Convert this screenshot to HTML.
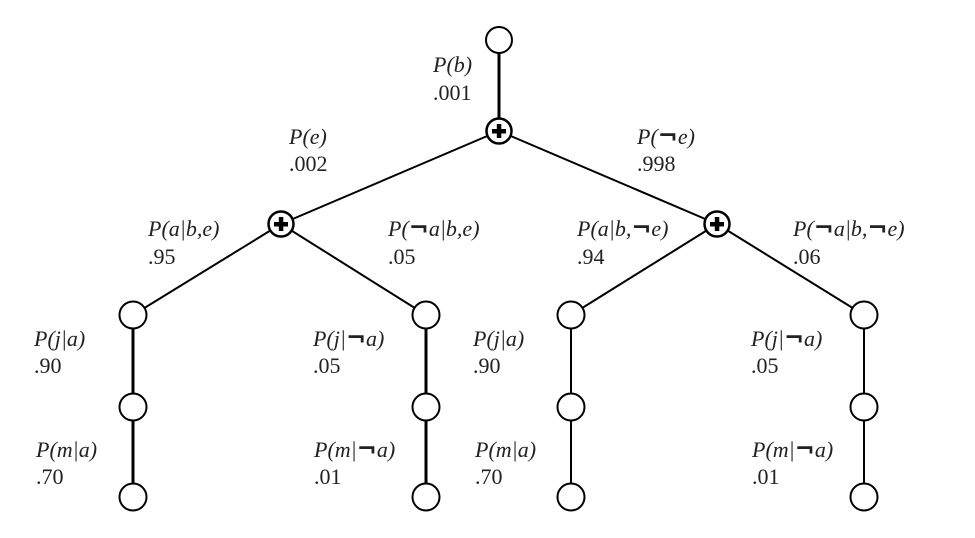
<!DOCTYPE html>
<html><head><meta charset="utf-8"><style>
html,body{margin:0;padding:0;background:#fff;}
svg{display:block;}
text{font-family:"Liberation Serif",serif;font-size:22px;fill:#222;}
.i{font-style:italic;}
.n{font-family:"DejaVu Sans",sans-serif;font-weight:bold;font-style:normal;font-size:24px;}
</style></head><body>
<svg width="975" height="538" viewBox="0 0 975 538" xmlns="http://www.w3.org/2000/svg">
<g stroke="#000" fill="none">
<line x1="499" y1="53" x2="499" y2="119" stroke-width="3"/>
<line x1="499" y1="131" x2="281" y2="224" stroke-width="2"/>
<line x1="499" y1="131" x2="717" y2="224" stroke-width="2"/>
<line x1="281" y1="224" x2="133" y2="315" stroke-width="2"/>
<line x1="281" y1="224" x2="426" y2="315" stroke-width="2"/>
<line x1="717" y1="224" x2="571" y2="315" stroke-width="2"/>
<line x1="717" y1="224" x2="864" y2="315" stroke-width="2"/>
<line x1="133" y1="315" x2="133" y2="498" stroke-width="3"/>
<line x1="426" y1="315" x2="426" y2="498" stroke-width="3"/>
<line x1="571" y1="315" x2="571" y2="498" stroke-width="2"/>
<line x1="864" y1="315" x2="864" y2="498" stroke-width="2"/>
</g>
<g stroke="#000" stroke-width="2" fill="#fff">
<circle cx="499" cy="40" r="13"/>
<circle cx="133" cy="315" r="13.5"/><circle cx="426" cy="315" r="13.5"/><circle cx="571" cy="315" r="13.5"/><circle cx="864" cy="315" r="13.5"/>
<circle cx="133" cy="407" r="13.5"/><circle cx="426" cy="407" r="13.5"/><circle cx="571" cy="407" r="13.5"/><circle cx="864" cy="407" r="13.5"/>
<circle cx="133" cy="497" r="13.5"/><circle cx="426" cy="497" r="13.5"/><circle cx="571" cy="497" r="13.5"/><circle cx="864" cy="497" r="13.5"/>
<circle cx="499" cy="131" r="12.5" stroke-width="2.5"/>
<circle cx="281" cy="224" r="12.5" stroke-width="2.5"/>
<circle cx="717" cy="224" r="12.5" stroke-width="2.5"/>
</g>
<g fill="#000">
<rect x="492" y="129" width="14" height="4.5"/><rect x="496.8" y="124" width="4.5" height="14"/>
<rect x="274" y="222" width="14" height="4.5"/><rect x="278.8" y="217" width="4.5" height="14"/>
<rect x="710" y="222" width="14" height="4.5"/><rect x="714.8" y="217" width="4.5" height="14"/>
</g>
<text class="i" x="433" y="72">P(b)</text><text x="433" y="100">.001</text>
<text class="i" x="289" y="144">P(e)</text><text x="289" y="171">.002</text>
<text class="i" x="637" y="144">P(<tspan class="n">¬</tspan>e)</text><text x="637" y="171">.998</text>
<text class="i" x="148" y="236">P(a|b,e)</text><text x="148" y="264">.95</text>
<text class="i" x="388" y="236">P(<tspan class="n">¬</tspan>a|b,e)</text><text x="388" y="264">.05</text>
<text class="i" x="577" y="236">P(a|b,<tspan class="n">¬</tspan>e)</text><text x="577" y="264">.94</text>
<text class="i" x="793" y="236">P(<tspan class="n">¬</tspan>a|b,<tspan class="n">¬</tspan>e)</text><text x="793" y="264">.06</text>
<text class="i" x="34" y="346">P(j|a)</text><text x="34" y="373">.90</text>
<text class="i" x="36" y="457">P(m|a)</text><text x="36" y="484">.70</text>
<text class="i" x="313" y="346">P(j|<tspan class="n">¬</tspan>a)</text><text x="313" y="373">.05</text>
<text class="i" x="314" y="457">P(m|<tspan class="n">¬</tspan>a)</text><text x="314" y="484">.01</text>
<text class="i" x="473" y="346">P(j|a)</text><text x="473" y="373">.90</text>
<text class="i" x="475" y="457">P(m|a)</text><text x="475" y="484">.70</text>
<text class="i" x="751" y="346">P(j|<tspan class="n">¬</tspan>a)</text><text x="751" y="373">.05</text>
<text class="i" x="752" y="457">P(m|<tspan class="n">¬</tspan>a)</text><text x="752" y="484">.01</text>
</svg>
</body></html>
